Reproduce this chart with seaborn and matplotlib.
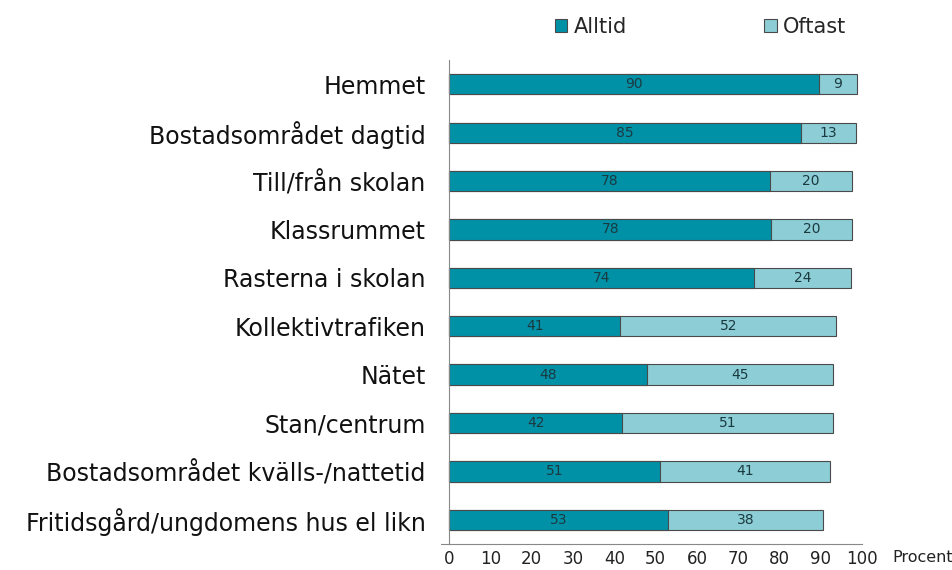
import pandas as pd
import matplotlib.pyplot as plt
import seaborn as sns

# Values (percent)
categories = ['Hemmet', 'Bostadsområdet dagtid', 'Till/från skolan', 'Klassrummet',
              'Rasterna i skolan', 'Kollektivtrafiken', 'Nätet', 'Stan/centrum',
              'Bostadsområdet kvälls-/nattetid', 'Fritidsgård/ungdomens hus el likn']
alltid = [89.6, 85.2, 77.6, 78.0, 73.8, 41.4, 47.9, 41.9, 51.1, 53.0]
oftast = [9.2, 13.4, 20.0, 19.6, 23.6, 52.4, 45.1, 51.1, 41.2, 37.6]
xticks = [0, 10, 20, 30, 40, 50, 60, 70, 80, 90, 100]

dark = '#0091a7'
light = '#8dcdd6'
edge = '#4a4a4a'
label_color = '#1b3a40'

df = pd.DataFrame({'Plats': categories, 'Alltid': alltid, 'Oftast': oftast})
df['Totalt'] = df['Alltid'] + df['Oftast']

sns.set_style('white')
plt.rcParams['font.family'] = ['DejaVu Sans']

fig = plt.figure(figsize=(9.53, 5.70), dpi=100)
ax = fig.add_axes([0.4627, 0.0456, 0.4418, 0.849])

# Stacked bars: total (light) underneath, Alltid (dark) on top
sns.barplot(data=df, y='Plats', x='Totalt', color=light, orient='h', width=0.42,
            edgecolor=edge, linewidth=0.8, saturation=1, ax=ax, label='Oftast')
sns.barplot(data=df, y='Plats', x='Alltid', color=dark, orient='h', width=0.42,
            edgecolor=edge, linewidth=0.8, saturation=1, ax=ax, label='Alltid')

# Segment labels
light_bars, dark_bars = ax.containers[0], ax.containers[1]
ax.bar_label(dark_bars, labels=[f'{round(v)}' for v in alltid], label_type='center',
             fontsize=10, color=label_color)
for bar, a, o in zip(light_bars, alltid, oftast):
    y = bar.get_y() + bar.get_height() / 2
    ax.text(a + o / 2, y, f'{round(o)}', ha='center', va='center', fontsize=10, color=label_color)

ax.set_xlim(-2, 100)
ax.set_ylim(9.5, -0.5)
ax.set_xticks(xticks)
ax.set_xticklabels([str(t) for t in xticks], fontsize=12, color='#222222')
ax.tick_params(axis='x', direction='in', length=5, color='#888888', pad=4)
ax.set_xlabel('')
ax.set_ylabel('')

# y tick marks between categories
ax.tick_params(axis='y', which='major', length=0, labelsize=17, pad=17, labelcolor='#111111')
ax.set_yticks([i + 0.5 for i in range(-1, 10)], minor=True)
ax.tick_params(axis='y', which='minor', direction='out', length=8, color='#888888')

for side in ['top', 'right']:
    ax.spines[side].set_visible(False)
ax.spines['left'].set_position(('data', 0))
ax.spines['left'].set_color('#888888')
ax.spines['bottom'].set_color('#888888')
ax.spines['bottom'].set_bounds(-2, 100)

fig.text(0.936, 0.008, 'Procent', fontsize=11.5, color='#222222', ha='left', va='bottom')

handles, labels = ax.get_legend_handles_labels()
order = [labels.index('Alltid'), labels.index('Oftast')]
ax.legend([handles[i] for i in order], [labels[i] for i in order], ncol=2,
          loc='center', bbox_to_anchor=(0.735, 0.953), bbox_transform=fig.transFigure,
          frameon=False, fontsize=15, handlelength=0.6, handleheight=0.6,
          handletextpad=0.3, columnspacing=6.6)

fig.savefig('out.png', dpi=100)
